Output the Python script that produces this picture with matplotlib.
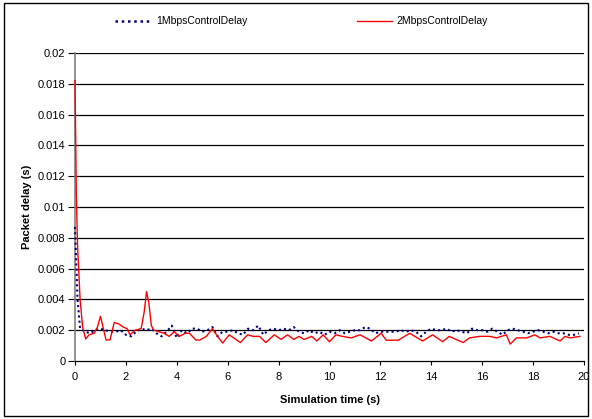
import numpy as np
import matplotlib
matplotlib.use("Agg")
import matplotlib.pyplot as plt
from matplotlib.lines import Line2D
from matplotlib.patches import Rectangle

plt.rcParams['font.family'] = ['Liberation Sans', 'DejaVu Sans']

# ---- data ----
series_names = ["1MbpsControlDelay", "2MbpsControlDelay"]

t_1mbps = [0.0, 0.1] + [round(0.2 * k, 1) for k in range(1, 100)]
d_1mbps = [0.0087, 0.0040,
           0.0021, 0.0019, 0.0018, 0.0020, 0.0021, 0.0020, 0.0019, 0.0019, 0.0020, 0.0017,
           0.0016, 0.0019, 0.0021, 0.0020, 0.0021, 0.0018, 0.0016, 0.0019, 0.0023, 0.0015,
           0.0020, 0.0018, 0.0021, 0.0021, 0.0019, 0.0020, 0.0022, 0.0016, 0.0019, 0.0019,
           0.0020, 0.0018, 0.0017, 0.0021, 0.0020, 0.0023, 0.0017, 0.0020, 0.0021, 0.0020,
           0.0021, 0.0020, 0.0022, 0.0019, 0.0018, 0.0020, 0.0018, 0.0019, 0.0017, 0.0019,
           0.0018, 0.0020, 0.0018, 0.0019, 0.0020, 0.0020, 0.0022, 0.0021, 0.0018, 0.0019,
           0.0019, 0.0019, 0.0019, 0.0020, 0.0019, 0.0020, 0.0019, 0.0016, 0.0019, 0.0021,
           0.0020, 0.0020, 0.0021, 0.0019, 0.0020, 0.0019, 0.0018, 0.0021, 0.0020, 0.0020,
           0.0019, 0.0021, 0.0019, 0.0017, 0.0020, 0.0021, 0.0020, 0.0019, 0.0018, 0.0019,
           0.0020, 0.0019, 0.0018, 0.0019, 0.0018, 0.0018, 0.0017, 0.0017, 0.0018]

t_2mbps = [0, 0.05, 0.1, 0.2, 0.3, 0.42, 0.55, 0.75, 0.88, 1.0,
           1.1, 1.22, 1.38, 1.54, 1.73, 1.9, 2.05, 2.16, 2.36, 2.6,
           2.72, 2.81, 2.9, 3.0, 3.1, 3.3, 3.5, 3.7, 3.9, 4.1,
           4.33, 4.5, 4.75, 4.9, 5.15, 5.4, 5.6, 5.8, 6.06, 6.5,
           6.78, 7.0, 7.25, 7.5, 7.83, 8.1, 8.35, 8.6, 8.8, 9.0,
           9.3, 9.5, 9.75, 10.0, 10.25, 10.5, 10.85, 11.2, 11.65, 12.03,
           12.23, 12.7, 13.15, 13.66, 14.05, 14.45, 14.7, 15.25, 15.5, 15.9,
           16.3, 16.56, 16.95, 17.1, 17.35, 17.75, 18.07, 18.27, 18.66, 19.06,
           19.25, 19.45, 19.84]
d_2mbps = [0.0182, 0.011, 0.0075, 0.004, 0.0022, 0.00143, 0.0017, 0.0018, 0.0022, 0.0029,
           0.0022, 0.00136, 0.00138, 0.0025, 0.0024, 0.0022, 0.0021, 0.0017, 0.002, 0.0021,
           0.0032, 0.0045, 0.0038, 0.0023, 0.002, 0.0019, 0.0018, 0.0016, 0.0019, 0.0016,
           0.0018, 0.0018, 0.00136, 0.00136, 0.00158, 0.0021, 0.0016, 0.00117, 0.0017, 0.0012,
           0.0017, 0.0016, 0.0016, 0.0012, 0.0017, 0.0014, 0.0017, 0.0014, 0.0016, 0.0014,
           0.0016, 0.0013, 0.0017, 0.00125, 0.0017, 0.0016, 0.0015, 0.0017, 0.0013, 0.0018,
           0.00135, 0.00135, 0.0018, 0.0013, 0.0017, 0.00125, 0.0016, 0.0012, 0.0015, 0.0016,
           0.0016, 0.0015, 0.0017, 0.0011, 0.0015, 0.0015, 0.0017, 0.0015, 0.0016, 0.0013,
           0.0016, 0.0015, 0.0016]

x_ticks = [0, 2, 4, 6, 8, 10, 12, 14, 16, 18, 20]
y_ticks = [0, 0.002, 0.004, 0.006, 0.008, 0.01, 0.012, 0.014, 0.016, 0.018, 0.02]
y_tick_labels = ["0", "0.002", "0.004", "0.006", "0.008", "0.01", "0.012",
                 "0.014", "0.016", "0.018", "0.02"]

# ---- figure ----
W, H = 592, 419
fig = plt.figure(figsize=(W / 100, H / 100), dpi=100)
ax = fig.add_axes([75 / W, 1 - 361 / H, (584 - 75) / W, (361 - 53) / H])

blue = "#000080"
red = "#FF0000"
ax.plot(t_1mbps, d_1mbps, color=blue, lw=1.5, linestyle=(0, (1, 1.5)), zorder=3,
        clip_on=False)
ax.plot(t_2mbps, d_2mbps, color=red, lw=1.0, zorder=4, clip_on=False)

ax.set_xlim(0, 20)
ax.set_ylim(0, 0.02)
ax.set_xticks(x_ticks)
ax.set_xticklabels([str(v) for v in x_ticks], fontsize=8)
ax.set_yticks(y_ticks)
ax.set_yticklabels(y_tick_labels, fontsize=8)
ax.tick_params(axis='y', direction='out', length=5, width=0.8, color='black', pad=2)
ax.tick_params(axis='x', direction='out', length=3, width=0.8, color='black', pad=5)

for v in y_ticks[1:]:
    ax.axhline(v, color='black', lw=0.9, zorder=1)

for s in ['top', 'right']:
    ax.spines[s].set_visible(False)
ax.spines['left'].set_color('#808080')
ax.spines['left'].set_linewidth(1.2)
ax.spines['left'].set_zorder(2)
ax.spines['bottom'].set_color('black')
ax.spines['bottom'].set_linewidth(0.9)

ax.set_xlabel("Simulation time (s)", fontsize=8, fontweight='bold', labelpad=9)
ax.set_ylabel("Packet delay (s)", fontsize=8, fontweight='bold', labelpad=4)

# legend
ly = 1 - 21 / H
fig.add_artist(Line2D([115 / W, 149 / W], [ly, ly], color=blue, lw=1.8,
                      linestyle=(0, (1, 1.5)), transform=fig.transFigure))
fig.text(156 / W, ly, series_names[0], fontsize=7.5, va='center', ha='left')
fig.add_artist(Line2D([357 / W, 392 / W], [ly, ly], color=red, lw=1.0,
                      transform=fig.transFigure))
fig.text(396 / W, ly, series_names[1], fontsize=7.5, va='center', ha='left')

# outer border
fig.add_artist(Rectangle((4 / W, 3 / H), (W - 8) / W, (H - 6) / H, fill=False,
                         edgecolor='black', lw=1.0, transform=fig.transFigure))

fig.savefig("out.png", dpi=100)
